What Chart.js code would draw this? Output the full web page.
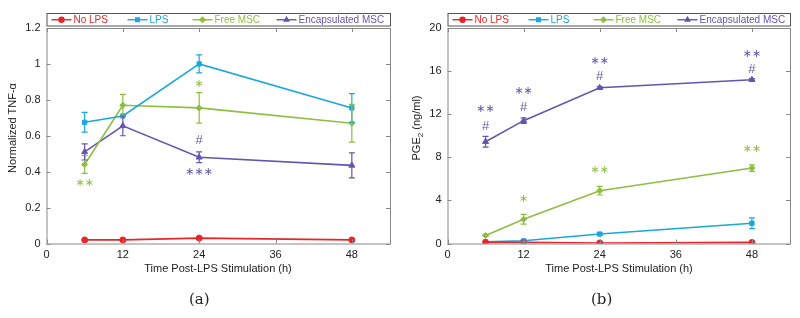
<!DOCTYPE html>
<html>
<head>
<meta charset="utf-8">
<script src="https://cdn.jsdelivr.net/npm/chart.js@4.4.1/dist/chart.umd.min.js"></script>
<style>
body { margin:0; background:#fff; font-family:"Liberation Sans", Arial, sans-serif; }
#wrap { position:relative; width:800px; height:318px; }
.panel { position:absolute; top:0; width:400px; height:318px; }
.xt { position:absolute; top:262px; font-size:11px; color:#222; text-align:center; }
.yt { position:absolute; font-size:11px; color:#222; white-space:nowrap; width:100px; height:14px; line-height:14px; text-align:center; transform:rotate(-90deg); transform-origin:50px 7px; }
.yt sub { font-size:8px; line-height:0; vertical-align:-3px; }
.cap { position:absolute; top:290px; font-family:"DejaVu Serif", "Liberation Serif", serif; font-size:15px; color:#222; }
</style>
</head>
<body>
<div id="wrap">
  <div class="panel" style="left:0"><canvas id="c1" width="400" height="318"></canvas></div>
  <div class="panel" style="left:400px"><canvas id="c2" width="400" height="318"></canvas></div>
  <div class="xt" style="left:47px;width:342px">Time Post-LPS Stimulation (h)</div>
  <div class="xt" style="left:448px;width:342px">Time Post-LPS Stimulation (h)</div>
  <div class="yt" style="left:-38px;top:121px">Normalized TNF-α</div>
  <div class="yt" style="left:366px;top:121px">PGE<sub>2</sub> (ng/ml)</div>
  <div class="cap" style="left:189px">(a)</div>
  <div class="cap" style="left:591px">(b)</div>
</div>
<script>
// time points (h)
var hours = [6, 12, 24, 48];
var names = ['No LPS', 'LPS', 'Free MSC', 'Encapsulated MSC'];
var colors = ['#e5262a', '#1aa7e0', '#8cbf3f', '#6655b0'];
var markers = ['circle', 'rect', 'rectRot', 'triangle'];

// (a) normalized TNF-alpha
var tnfNoLps = [0.02, 0.02, 0.03, 0.02];
var tnfLps = [0.675, 0.71, 1.0, 0.755];
var tnfFree = [0.44, 0.77, 0.755, 0.67];
var tnfEnc = [0.51, 0.655, 0.48, 0.435];
var tnfNoLpsErr = [0, 0, 0.005, 0];
var tnfLpsErr = [0.055, 0, 0.05, 0.08];
var tnfFreeErr = [0.05, 0.06, 0.085, 0.105];
var tnfEncErr = [0.045, 0.055, 0.03, 0.07];
var tnfTicks = [0, 0.2, 0.4, 0.6, 0.8, 1, 1.2];

// (b) PGE2 ng/ml
var pgeNoLps = [0.1, 0.12, 0.05, 0.1];
var pgeLps = [0.15, 0.25, 0.88, 1.88];
var pgeFree = [0.75, 2.25, 4.9, 7.0];
var pgeEnc = [9.45, 11.4, 14.45, 15.2];
var pgeNoLpsErr = [0, 0, 0, 0];
var pgeLpsErr = [0, 0.1, 0.1, 0.5];
var pgeFreeErr = [0.1, 0.45, 0.4, 0.3];
var pgeEncErr = [0.5, 0.25, 0.1, 0.1];
var pgeTicks = [0, 4, 8, 12, 16, 20];

var xTicks = [0, 12, 24, 36, 48];

// significance marks: [hour, value, text, series]
var tnfSig = [[6, 0.335, '∗∗', 2], [24, 0.885, '∗', 2], [24, 0.575, '#', 3], [24, 0.40, '∗∗∗', 3]];
var pgeSig = [[6, 12.5, '∗∗', 3], [6, 10.9, '#', 3], [12, 14.1, '∗∗', 3], [12, 12.6, '#', 3],
  [24, 16.9, '∗∗', 3], [24, 15.5, '#', 3], [48, 17.6, '∗∗', 3], [48, 16.2, '#', 3],
  [12, 4.1, '∗', 2], [24, 6.8, '∗∗', 2], [48, 8.75, '∗∗', 2]];

function makeSets(vals, errs) {
  return vals.map(function(v, k) {
    return {
      label: names[k],
      data: hours.map(function(h, i) { return {x: h, y: v[i]}; }),
      err: errs[k],
      borderColor: colors[k],
      backgroundColor: colors[k],
      borderWidth: 1.6,
      pointStyle: markers[k],
      pointRadius: k == 3 ? 3.5 : 3,
      pointBorderWidth: 1,
      tension: 0
    };
  });
}

var boxPlugin = {
  id: 'box',
  afterDatasetsDraw: function(chart) {
    var c = chart.ctx, a = chart.chartArea;
    var xs = chart.scales.x, ys = chart.scales.y;
    // error bars
    chart.data.datasets.forEach(function(ds, k) {
      var meta = chart.getDatasetMeta(k);
      c.save();
      c.strokeStyle = ds.borderColor;
      c.lineWidth = 1.2;
      ds.data.forEach(function(p, i) {
        var e = ds.err[i];
        if (!e) return;
        var px = meta.data[i].x;
        var y1 = ys.getPixelForValue(p.y + e), y2 = ys.getPixelForValue(p.y - e);
        c.beginPath();
        c.moveTo(px, y1); c.lineTo(px, y2);
        c.moveTo(px - 3, y1); c.lineTo(px + 3, y1);
        c.moveTo(px - 3, y2); c.lineTo(px + 3, y2);
        c.stroke();
      });
      c.restore();
    });
    // significance marks
    var sig = chart.options.plugins.box.sig;
    c.save();
    c.textAlign = 'center';
    c.textBaseline = 'middle';
    sig.forEach(function(s) {
      c.fillStyle = colors[s[3]];
      c.font = s[2] == '#' ? '13px "Liberation Sans", Arial' : '11px "DejaVu Sans"';
      c.fillText(s[2], xs.getPixelForValue(s[0]), ys.getPixelForValue(s[1]));
    });
    c.restore();
  },
  afterDraw: function(chart) {
    var c = chart.ctx, a = chart.chartArea;
    var xs = chart.scales.x, ys = chart.scales.y;
    c.save();
    c.strokeStyle = '#8a8a8a';
    c.lineWidth = 1;
    c.strokeRect(a.left + 0.5, a.top + 0.5, a.right - a.left, a.bottom - a.top);
    c.beginPath();
    xTicks.forEach(function(t) {
      var px = Math.round(xs.getPixelForValue(t)) + 0.5;
      c.moveTo(px, a.bottom); c.lineTo(px, a.bottom - 4);
      c.moveTo(px, a.top); c.lineTo(px, a.top + 4);
    });
    ys.ticks.forEach(function(t) {
      var py = Math.round(ys.getPixelForValue(t.value)) + 0.5;
      c.moveTo(a.left, py); c.lineTo(a.left + 4, py);
      c.moveTo(a.right, py); c.lineTo(a.right - 4, py);
    });
    c.stroke();
    // legend
    var top = 13, h = 12.5;
    c.fillStyle = '#fff';
    c.fillRect(a.left, top, a.right - a.left, h);
    c.strokeStyle = '#555';
    c.strokeRect(a.left + 0.5, top + 0.5, a.right - a.left, h);
    var offs = [5, 81, 146, 230];
    c.font = '10px "Liberation Sans", Arial';
    c.textBaseline = 'middle';
    var my = top + h / 2 + 0.5;
    chart.data.datasets.forEach(function(ds, k) {
      var x0 = a.left + offs[k];
      c.strokeStyle = ds.borderColor;
      c.fillStyle = ds.borderColor;
      c.lineWidth = 1.4;
      c.beginPath(); c.moveTo(x0, my); c.lineTo(x0 + 20, my); c.stroke();
      Chart.helpers.drawPoint(c, {pointStyle: ds.pointStyle, radius: 2.5, borderWidth: 1}, x0 + 10, my);
      c.fillText(ds.label, x0 + 22, my);
    });
    c.restore();
  }
};

function makeChart(id, sets, yTicks, yWidth, sig) {
  return new Chart(document.getElementById(id), {
    type: 'line',
    data: {datasets: sets},
    plugins: [boxPlugin],
    options: {
      responsive: false,
      animation: false,
      devicePixelRatio: 1,
      layout: {padding: {top: 28, right: 10, left: 0, bottom: 0}},
      plugins: {legend: {display: false}, tooltip: {enabled: false}, box: {sig: sig}},
      scales: {
        x: {
          type: 'linear', min: 0, max: 54,
          grid: {display: false, drawTicks: false}, border: {display: false},
          ticks: {stepSize: 12, includeBounds: false, padding: 5, color: '#222', font: {size: 11, family: '"Liberation Sans", Arial'}},
          afterFit: function(s) { s.height = 74.5; }
        },
        y: {
          min: 0, max: yTicks[yTicks.length - 1],
          grid: {display: false, drawTicks: false}, border: {display: false},
          ticks: {stepSize: yTicks[1], padding: 6, color: '#222', font: {size: 11, family: '"Liberation Sans", Arial'},
            callback: function(v) { return String(Math.round(v * 10) / 10); }},
          afterFit: function(s) { s.width = yWidth; }
        }
      }
    }
  });
}

makeChart('c1', makeSets([tnfNoLps, tnfLps, tnfFree, tnfEnc], [tnfNoLpsErr, tnfLpsErr, tnfFreeErr, tnfEncErr]), tnfTicks, 46.5, tnfSig);
makeChart('c2', makeSets([pgeNoLps, pgeLps, pgeFree, pgeEnc], [pgeNoLpsErr, pgeLpsErr, pgeFreeErr, pgeEncErr]), pgeTicks, 47.5, pgeSig);
</script>
</body>
</html>
